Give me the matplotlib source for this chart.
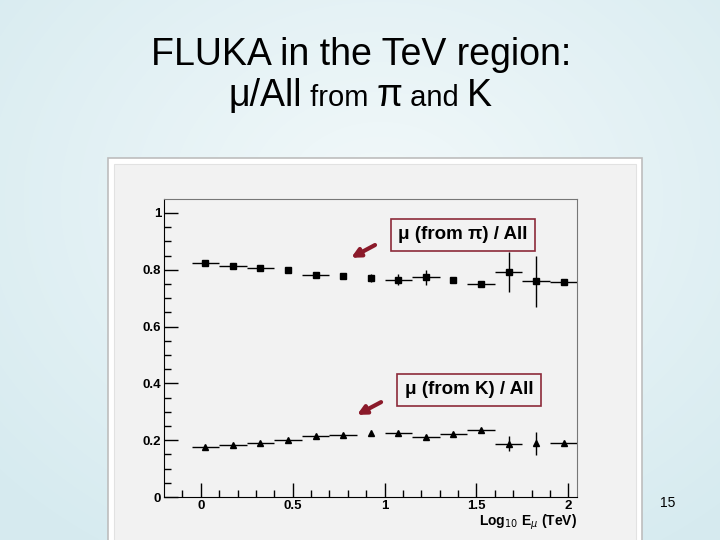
import numpy as np
import matplotlib
matplotlib.use('Agg')
import matplotlib.pyplot as plt
from matplotlib.patches import Rectangle

plt.rcParams['font.family'] = ['Liberation Sans', 'DejaVu Sans']

# bin centres in log10(E/TeV)
log_e = [0.025, 0.175, 0.325, 0.475, 0.625, 0.775, 0.925,
         1.075, 1.225, 1.375, 1.525, 1.675, 1.825, 1.975]

# mu from pion / all
pi_frac = [0.822, 0.814, 0.806, 0.798, 0.780, 0.777, 0.771,
           0.765, 0.773, 0.764, 0.750, 0.792, 0.759, 0.757]
pi_err = [0.004, 0.004, 0.004, 0.004, 0.004, 0.010, 0.015,
          0.020, 0.025, 0.005, 0.005, 0.070, 0.090, 0.004]
pi_xerr = [0.075, 0.075, 0.075, 0.0, 0.075, 0.0, 0.0,
           0.075, 0.075, 0.0, 0.075, 0.075, 0.075, 0.075]

# mu from kaon / all
k_frac = [0.176, 0.183, 0.190, 0.201, 0.216, 0.220, 0.224,
          0.225, 0.211, 0.222, 0.236, 0.187, 0.189, 0.190]
k_err = [0.003, 0.003, 0.003, 0.003, 0.004, 0.004, 0.004,
         0.004, 0.008, 0.004, 0.004, 0.026, 0.040, 0.004]
k_xerr = [0.075, 0.075, 0.075, 0.075, 0.075, 0.075, 0.0,
          0.075, 0.075, 0.075, 0.075, 0.075, 0.0, 0.075]

W, H = 720, 540
fig = plt.figure(figsize=(7.2, 5.4), dpi=100)

# slide background, light blue with a paler middle
bg = fig.add_axes([0, 0, 1, 1], zorder=-10)
yy, xx = np.mgrid[0:H, 0:W]
r = np.sqrt(((xx - 380) / 520.0) ** 2 + ((yy - 200) / 420.0) ** 2)
t = np.clip(r, 0, 1)[..., None]
c_in = np.array([0.95, 0.975, 0.98])
c_out = np.array([0.84, 0.92, 0.94])
bg.imshow(c_in * (1 - t) + c_out * t, aspect='auto', extent=[0, W, H, 0])
bg.set_xlim(0, W)
bg.set_ylim(H, 0)
bg.axis('off')

# grey canvas panel
fig.patches.append(Rectangle((108 / W, -0.02), (642 - 108) / W, (540 - 158) / H + 0.02,
                             transform=fig.transFigure, facecolor='white',
                             edgecolor='#bdbdbd', lw=1.2, zorder=-5))
fig.patches.append(Rectangle((114 / W, -0.02), (636 - 114) / W, (540 - 164) / H + 0.02,
                             transform=fig.transFigure, facecolor='#f2f2f2',
                             edgecolor='#e2e2e2', lw=0.8, zorder=-4))

# title
fig.text(361 / W, 1 - 65 / H, 'FLUKA in the TeV region:', fontsize=27,
         ha='center', va='baseline')

pieces = [('μ/All', 27), (' from ', 21), ('π', 27), (' and ', 21), ('K', 27)]
fig.canvas.draw()
renderer = fig.canvas.get_renderer()
txts = []
for s, fs in pieces:
    tx = fig.text(0, 1 - 106 / H, s, fontsize=fs, ha='left', va='baseline')
    txts.append(tx)
widths = [tx.get_window_extent(renderer).width for tx in txts]
x0 = 360 - sum(widths) / 2
for tx, w in zip(txts, widths):
    tx.set_x(x0 / W)
    x0 += w

fig.text(668 / W, 1 - 503 / H, '15', fontsize=10, ha='center', va='center')

ax = fig.add_axes([164 / W, 1 - 497 / H, (577 - 164) / W, (497 - 199) / H])
ax.set_facecolor('#f2f2f2')

ax.errorbar(log_e, pi_frac, xerr=pi_xerr, yerr=pi_err, fmt='s', ms=5,
            color='black', elinewidth=1, capsize=0)
ax.errorbar(log_e, k_frac, xerr=k_xerr, yerr=k_err, fmt='^', ms=4,
            color='black', elinewidth=1, capsize=0)

ax.set_xlim(-0.2, 2.047)
ax.set_ylim(0, 1.049)
ax.set_xticks([0, 0.5, 1, 1.5, 2])
ax.set_xticklabels(['0', '0.5', '1', '1.5', '2'])
ax.set_xticks(np.arange(-0.1, 2.05, 0.1), minor=True)
ax.set_yticks([0, 0.2, 0.4, 0.6, 0.8, 1])
ax.set_yticklabels(['0', '0.2', '0.4', '0.6', '0.8', '1'])
ax.set_yticks(np.arange(0.05, 1.05, 0.05), minor=True)
ax.tick_params(which='major', direction='in', length=10, width=1, labelsize=9.5, pad=2.5)
ax.tick_params(which='minor', direction='in', length=5, width=1)
ax.tick_params(axis='y', pad=2)
for lab in ax.get_xticklabels() + ax.get_yticklabels():
    lab.set_fontweight('bold')
for side in ['top', 'right']:
    ax.spines[side].set_color('#777777')

ax.text(1.0, -0.096, r'Log$_{10}$ E$_{\mu}$ (TeV)', transform=ax.transAxes,
        ha='right', va='baseline', fontsize=10, fontweight='bold')

box = dict(boxstyle='square,pad=0.4', facecolor='#f2f2f2', edgecolor='#8c2a3a', lw=1.2)
ax.text(1.427, 0.924, 'μ (from π) / All', ha='center', va='center',
        fontsize=13.5, fontweight='bold', bbox=box)
ax.text(1.46, 0.377, 'μ (from K) / All', ha='center', va='center',
        fontsize=13.5, fontweight='bold', bbox=box)

arrow = dict(arrowstyle='-|>', color='#8b1a2a', lw=3, mutation_scale=13,
             shrinkA=0, shrinkB=0)
ax.annotate('', xy=(0.818, 0.842), xytext=(0.948, 0.887), arrowprops=arrow)
ax.annotate('', xy=(0.850, 0.289), xytext=(0.981, 0.334), arrowprops=arrow)

fig.savefig('out.png', dpi=100)
